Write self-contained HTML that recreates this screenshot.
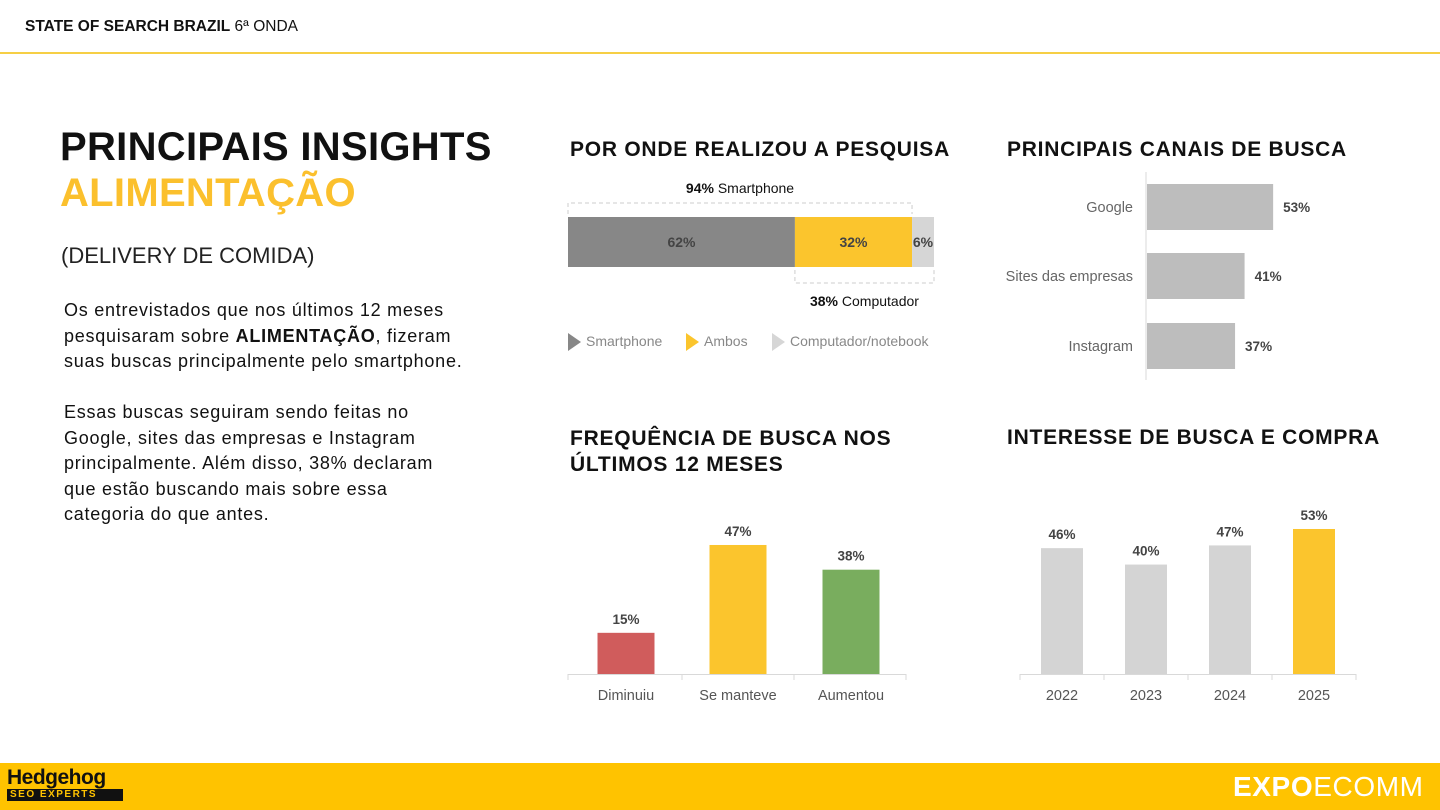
<!DOCTYPE html>
<html><head><meta charset="utf-8">
<style>
body{margin:0;width:1440px;height:810px;background:#fff;position:relative;overflow:hidden;font-family:"Liberation Sans",sans-serif;}
.abs{position:absolute;}
.title{font-weight:bold;font-size:21px;color:#111;letter-spacing:0.75px;}
svg text{font-family:"Liberation Sans",sans-serif;}
</style></head><body>
<div class="abs" style="left:25px;top:18px;font-size:15.5px;color:#111;"><b>STATE OF SEARCH BRAZIL</b> 6ª ONDA</div>
<div class="abs" style="left:0;top:52px;width:1440px;height:2px;background:#f6cf45;"></div>

<div class="abs" style="left:60px;top:124px;font-size:40px;font-weight:bold;color:#111;line-height:46px;letter-spacing:0.3px;">PRINCIPAIS INSIGHTS<br><span style="color:#fbc02d">ALIMENTAÇÃO</span></div>
<div class="abs" style="left:61px;top:243px;font-size:22px;color:#222;">(DELIVERY DE COMIDA)</div>
<div class="abs" style="left:64px;top:298px;font-size:18px;line-height:25.5px;color:#111;white-space:nowrap;letter-spacing:0.75px;">Os entrevistados que nos últimos 12 meses<br>pesquisaram sobre <b>ALIMENTAÇÃO</b>, fizeram<br>suas buscas principalmente pelo smartphone.<br><br>Essas buscas seguiram sendo feitas no<br>Google, sites das empresas e Instagram<br>principalmente. Além disso, 38% declaram<br>que estão buscando mais sobre essa<br>categoria do que antes.</div>

<div class="abs title" style="left:570px;top:138px;">POR ONDE REALIZOU A PESQUISA</div>
<div class="abs title" style="left:1007px;top:138px;">PRINCIPAIS CANAIS DE BUSCA</div>
<div class="abs title" style="left:570px;top:426px;line-height:26px;">FREQUÊNCIA DE BUSCA NOS<br>ÚLTIMOS 12 MESES</div>
<div class="abs title" style="left:1007px;top:426px;">INTERESSE DE BUSCA E COMPRA</div>

<svg class="abs" style="left:0;top:0" width="1440" height="810" id="svg"></svg>

<div class="abs" style="left:0;top:763px;width:1440px;height:47px;background:#ffc300;"></div>
<div class="abs" style="left:7px;top:767px;font-weight:bold;font-size:21px;color:#111;line-height:22px;letter-spacing:-0.5px;">Hedgehog<div style="background:#111;color:#ffc300;font-size:10px;line-height:12px;padding:0 3px;letter-spacing:1.5px;width:110px;">SEO EXPERTS</div></div>
<div class="abs" style="left:1233px;top:771px;font-size:28px;color:#fff;letter-spacing:0.6px;"><b>EXPO</b>ECOMM</div>

<script>
const deviceLabels=['Smartphone','Ambos','Computador/notebook'];
const deviceValues=[62,32,6];
const channelLabels=['Google','Sites das empresas','Instagram'];
const channelValues=[53,41,37];
const freqLabels=['Diminuiu','Se manteve','Aumentou'];
const freqValues=[15,47,38];
const yearLabels=['2022','2023','2024','2025'];
const yearValues=[46,40,47,53];

const svg=document.getElementById('svg');
const NS='http://www.w3.org/2000/svg';
function mk(tag,attrs,parent){const e=document.createElementNS(NS,tag);for(const k in attrs)e.setAttribute(k,attrs[k]);(parent||svg).appendChild(e);return e;}
function txt(x,y,s,attrs){const t=mk('text',Object.assign({x:x,y:y},attrs));t.textContent=s;return t;}

const devX=v=>568+v*3.66;
const devCols=['#878787','#fbc52d','#d6d6d6'];
let acc=0;
deviceValues.forEach((v,i)=>{
  const r=mk('rect',{x:devX(acc),y:217,width:devX(acc+v)-devX(acc),height:50,fill:devCols[i]});
  
  
  const t=txt((devX(acc)+devX(acc+v))/2,247,v+'%',{'text-anchor':'middle','font-size':14,'font-weight':'bold',fill:'#444'});
  
  
  acc+=v;
});
const smart=deviceValues[0]+deviceValues[1], comp=deviceValues[1]+deviceValues[2];
mk('path',{d:`M${devX(0)} 214 V203 H${devX(smart)} V214`,fill:'none',stroke:'#ccc','stroke-dasharray':'4 3'});
mk('path',{d:`M${devX(deviceValues[0])} 270 V283 H${devX(100)} V270`,fill:'none',stroke:'#ccc','stroke-dasharray':'4 3'});
let t1=txt(devX(smart/2),193,'',{'text-anchor':'middle','font-size':14,fill:'#111'});
t1.innerHTML='<tspan font-weight="bold">'+smart+'%</tspan> Smartphone';


let t2=txt((devX(deviceValues[0])+devX(100))/2,306,'',{'text-anchor':'middle','font-size':14,fill:'#111'});
t2.innerHTML='<tspan font-weight="bold">'+comp+'%</tspan> Computador';


const legX=[568,686,772];
deviceLabels.forEach((l,i)=>{
  const g=mk('g',{});
  
  
  mk('path',{d:`M${legX[i]} 333 L${legX[i]+13} 342 L${legX[i]} 351 Z`,fill:devCols[i]},g);
  const tt=mk('text',{x:legX[i]+18,y:346,'font-size':14,fill:'#888'},g);tt.textContent=l;
});

const chX=v=>1147+v*2.38;
const chY=[207,276,346];
mk('line',{x1:1146,y1:172,x2:1146,y2:380,stroke:'#d9d9d9'});
channelValues.forEach((v,i)=>{
  const r=mk('rect',{x:1147,y:chY[i]-23,width:chX(v)-1147,height:46,fill:'#bdbdbd'});
  
  
  const a=txt(chX(v)+10,chY[i]+5,v+'%',{'font-size':13.5,'font-weight':'bold',fill:'#444'});
  
  
  const b=txt(1133,chY[i]+5,channelLabels[i],{'font-size':14.5,'text-anchor':'end',fill:'#666'});
  
  
});

const fY=v=>674-v*2.745;
const fX=[626,738,851];
const fCols=['#d05c5c','#fbc52d','#79ad5e'];
mk('line',{x1:568,y1:674.5,x2:906,y2:674.5,stroke:'#d9d9d9'});
[568,682,794,906].forEach(x=>mk('line',{x1:x,y1:674,x2:x,y2:680,stroke:'#d9d9d9'}));
freqValues.forEach((v,i)=>{
  const r=mk('rect',{x:fX[i]-28.5,y:fY(v),width:57,height:674-fY(v),fill:fCols[i]});
  
  
  const a=txt(fX[i],fY(v)-9,v+'%',{'font-size':13.5,'font-weight':'bold','text-anchor':'middle',fill:'#444'});
  
  
  const b=txt(fX[i],700,freqLabels[i],{'font-size':14.5,'text-anchor':'middle',fill:'#555'});
  
  
});

const iY=v=>674-v*2.736;
const iX=[1062,1146,1230,1314];
mk('line',{x1:1020,y1:674.5,x2:1356,y2:674.5,stroke:'#d9d9d9'});
[1020,1104,1188,1272,1356].forEach(x=>mk('line',{x1:x,y1:674,x2:x,y2:680,stroke:'#d9d9d9'}));
yearValues.forEach((v,i)=>{
  const r=mk('rect',{x:iX[i]-21,y:iY(v),width:42,height:674-iY(v),fill:i===yearValues.length-1?'#fbc52d':'#d4d4d4'});
  
  
  const a=txt(iX[i],iY(v)-9,v+'%',{'font-size':13.5,'font-weight':'bold','text-anchor':'middle',fill:'#444'});
  
  
  const b=txt(iX[i],700,yearLabels[i],{'font-size':14.5,'text-anchor':'middle',fill:'#555'});
  
  
});
</script>
</body></html>
